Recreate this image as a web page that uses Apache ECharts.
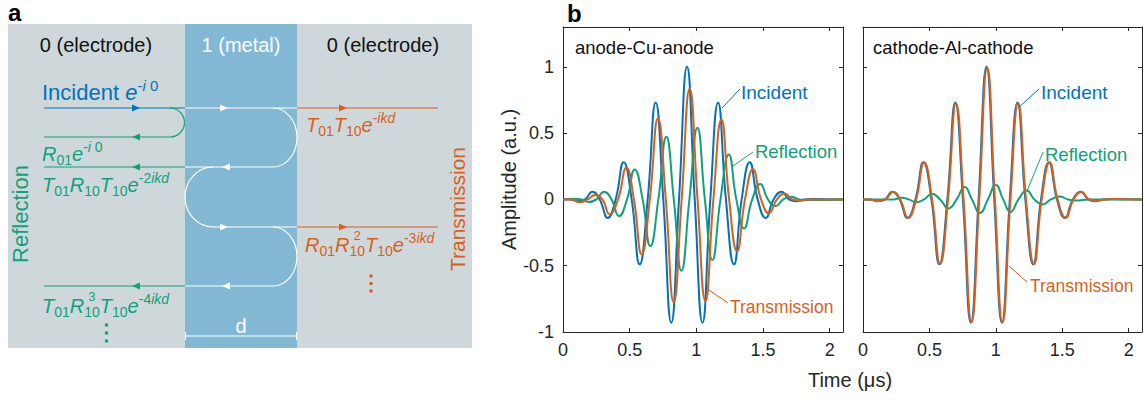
<!DOCTYPE html>
<html><head><meta charset="utf-8">
<script src="https://cdn.jsdelivr.net/npm/echarts@6/dist/echarts.min.js"></script>
<style>html,body{margin:0;padding:0;background:#fff}#c{width:1146px;height:401px}</style>
</head><body><div id="c"></div>
<script>
// ---------- data ----------
const xTicks = [0, 0.5, 1, 1.5, 2];
const yTicks = [-1, -0.5, 0, 0.5, 1];
const panelTitles = ['anode-Cu-anode', 'cathode-Al-cathode'];

// Incident pulse (same in both panels)
const incT = [0, 0.05, 0.11, 0.165, 0.22, 0.275, 0.335, 0.395, 0.455, 0.515, 0.575, 0.635, 0.695, 0.752, 0.812, 0.87, 0.93, 0.988, 1.046, 1.105, 1.163, 1.222, 1.282, 1.34, 1.40, 1.46, 1.52, 1.58, 1.64, 1.695, 1.75, 1.81, 1.87, 2.1];
const incA = [0, 0, -0.014, 0, 0.058, 0, -0.14, 0, 0.28, 0, -0.49, 0, 0.73, 0, -0.93, 0, 1.0, 0, -0.93, 0, 0.73, 0, -0.49, 0, 0.28, 0, -0.14, 0, 0.058, 0, -0.014, 0, 0.003, 0];

// anode-Cu-anode
const cuTrT = [0, 0.06, 0.125, 0.185, 0.24, 0.295, 0.35, 0.413, 0.475, 0.532, 0.59, 0.651, 0.712, 0.771, 0.83, 0.89, 0.95, 1.009, 1.068, 1.128, 1.188, 1.246, 1.305, 1.365, 1.425, 1.485, 1.545, 1.604, 1.663, 1.72, 1.78, 1.84, 2.1];
const cuTrA = [0, 0, -0.022, 0, 0.034, 0, -0.112, 0, 0.238, 0, -0.414, 0, 0.61, 0, -0.776, 0, 0.837, 0, -0.767, 0, 0.603, 0, -0.39, 0, 0.227, 0, -0.105, 0, 0.045, 0, -0.01, 0, 0];
const cuReT = [0, 0.08, 0.14, 0.19, 0.25, 0.308, 0.364, 0.42, 0.48, 0.538, 0.597, 0.655, 0.715, 0.775, 0.831, 0.888, 0.948, 1.008, 1.064, 1.12, 1.181, 1.243, 1.30, 1.358, 1.419, 1.48, 1.537, 1.595, 1.652, 1.71, 1.77, 1.83, 2.1];
const cuReA = [0, 0.004, 0, -0.02, 0, 0.058, 0, -0.126, 0, 0.226, 0, -0.352, 0, 0.472, 0, -0.538, 0, 0.54, 0, -0.457, 0, 0.339, 0, -0.219, 0, 0.116, 0, -0.05, 0, 0.02, 0, -0.005, 0];

// cathode-Al-cathode
const alTrT = [0, 0.05, 0.115, 0.17, 0.225, 0.28, 0.34, 0.40, 0.46, 0.52, 0.58, 0.64, 0.70, 0.757, 0.817, 0.875, 0.935, 0.993, 1.05, 1.11, 1.168, 1.227, 1.287, 1.345, 1.405, 1.465, 1.525, 1.585, 1.645, 1.70, 1.755, 1.815, 1.875, 2.1];
const alTrA = [0, 0, -0.012, 0, 0.056, 0, -0.138, 0, 0.278, 0, -0.487, 0, 0.725, 0, -0.925, 0, 0.99, 0, -0.925, 0, 0.725, 0, -0.487, 0, 0.278, 0, -0.138, 0, 0.056, 0, -0.012, 0, 0.003, 0];
const alReT = [0, 0.12, 0.23, 0.29, 0.345, 0.40, 0.46, 0.52, 0.58, 0.645, 0.705, 0.765, 0.82, 0.88, 0.94, 1.0, 1.055, 1.11, 1.17, 1.232, 1.29, 1.352, 1.415, 1.48, 1.54, 1.60, 1.70, 2.1];
const alReA = [0, 0, 0, 0.012, 0, -0.022, 0, 0.042, 0, -0.068, 0, 0.093, 0, -0.102, 0, 0.109, 0, -0.096, 0, 0.067, 0, -0.038, 0, 0.022, 0, -0.008, 0, 0];

// ---------- style ----------
const FF = '"Liberation Sans", Arial, Helvetica, sans-serif';
const AX = '#262626';
const C_INC = '#0072BD', C_TR = '#D95F1A', C_RE = '#12A07A';
const BG_GRAY = '#CED8DA', BG_BLUE = '#83B8D4';

const pairs = (t, a) => t.map((v, i) => [v, a[i]]);

// ---------- graphic helpers ----------
const G = [];
const mctx = document.createElement('canvas').getContext('2d');
function txt(x, y, s, size, color, o) {
  o = o || {};
  G.push({type: 'text', x: x, y: y, rotation: o.rot || 0, z: 20, silent: true,
    style: {text: s, fontSize: size, fontFamily: FF, fontStyle: o.it ? 'italic' : 'normal',
      fontWeight: o.bold ? 'bold' : 'normal', fill: color, align: o.align || 'left', verticalAlign: 'middle'}});
}
function ln(x1, y1, x2, y2, color, w) {
  G.push({type: 'line', z: 10, silent: true, shape: {x1: x1, y1: y1, x2: x2, y2: y2}, style: {stroke: color, lineWidth: w || 1.2}});
}
function bz(x1, y1, c1x, c1y, c2x, c2y, x2, y2, color) {
  G.push({type: 'bezierCurve', z: 10, silent: true,
    shape: {x1: x1, y1: y1, cpx1: c1x, cpy1: c1y, cpx2: c2x, cpy2: c2y, x2: x2, y2: y2},
    style: {stroke: color, fill: null, lineWidth: 1.2}});
}
// half ellipse from (cx, cy-ry) to (cx, cy+ry) bulging in direction dir (+1 right, -1 left)
function halfEll(cx, cy, rx, ry, dir, color) {
  const k = 0.5523;
  const ex = cx + dir * rx;
  bz(cx, cy - ry, cx + dir * k * rx, cy - ry, ex, cy - k * ry, ex, cy, color);
  bz(ex, cy, ex, cy + k * ry, cx + dir * k * rx, cy + ry, cx, cy + ry, color);
}
function arrow(xt, y, dir, color) {
  G.push({type: 'polygon', z: 11, silent: true, shape: {points: [[xt, y], [xt - dir * 8, y - 3.5], [xt - dir * 8, y + 3.5]]}, style: {fill: color}});
}
function dot(x, y, color) {
  G.push({type: 'circle', z: 11, silent: true, shape: {cx: x, cy: y, r: 1.7}, style: {fill: color}});
}
function fml(x0, base, parts, color, M, S) {
  M = M || 20; S = S || 14;
  let x = x0, stack = null;
  parts.forEach(function (p) {
    const s = p[0], k = p[1], it = p[2];
    const size = k === 'm' ? M : (k === 's' ? S - 1.5 : S);
    const dy = k === 'b' ? 3.5 : k === 'p' ? -9 : k === 's' ? -11.5 : 0;
    mctx.font = (it ? 'italic ' : '') + size + 'px "Liberation Sans"';
    const w = mctx.measureText(s).width;
    if (k === 's') { stack = {s: s, w: w, size: size, dy: dy}; return; }
    if (stack) {
      txt(x + (w - stack.w) / 2, base + stack.dy - 0.35 * stack.size, stack.s, stack.size, color);
      stack = null;
    }
    txt(x, base + dy - 0.35 * size, s, size, color, {it: it});
    x += w;
  });
}

// ---------- panel a ----------
G.push({type: 'rect', z: 1, silent: true, shape: {x: 8, y: 24, width: 464, height: 324}, style: {fill: BG_GRAY}});
G.push({type: 'rect', z: 2, silent: true, shape: {x: 185, y: 24, width: 112, height: 324}, style: {fill: BG_BLUE}});
txt(8, 12, 'a', 24, '#000', {bold: true});
txt(567, 13, 'b', 24, '#000', {bold: true});
txt(96, 45, '0 (electrode)', 20, '#111', {align: 'center'});
txt(241, 45, '1 (metal)', 20, '#fff', {align: 'center'});
txt(383, 45, '0 (electrode)', 20, '#111', {align: 'center'});
txt(20, 214, 'Reflection', 22, C_RE, {align: 'center', rot: Math.PI / 2});
txt(457, 209, 'Transmission', 21, C_TR, {align: 'center', rot: Math.PI / 2});

// rays
ln(44, 108, 185, 108, C_INC);
ln(44, 137, 170, 137, C_RE);
halfEll(170, 122.5, 14.5, 14.5, 1, C_RE);
ln(44, 167, 185, 167, C_RE);
ln(44, 286, 185, 286, C_RE);
ln(185, 108, 297, 108, '#fff');
ln(185, 167, 273, 167, '#fff');
ln(213, 227, 297, 227, '#fff');
ln(185, 286, 273, 286, '#fff');
halfEll(273, 137.5, 24, 29.5, 1, '#fff');
halfEll(213, 197, 28, 30, -1, '#fff');
halfEll(273, 256.5, 24, 29.5, 1, '#fff');
ln(297, 108, 438, 108, C_TR);
ln(297, 227, 438, 227, C_TR);
arrow(140, 108, 1, C_INC);
arrow(132, 137, -1, C_RE); arrow(132, 167, -1, C_RE); arrow(132, 286, -1, C_RE);
arrow(228, 108, 1, '#fff'); arrow(228, 227, 1, '#fff');
arrow(222, 167, -1, '#fff'); arrow(222, 286, -1, '#fff');
arrow(347, 108, 1, C_TR); arrow(347, 227, 1, C_TR);
// d bracket
ln(185, 336, 297, 336, '#fff', 1.2);
ln(185.5, 332, 185.5, 340, '#fff', 1.2);
ln(296.5, 332, 296.5, 340, '#fff', 1.2);
txt(241, 326, 'd', 20, '#fff', {align: 'center'});
// dots
dot(106.5, 325, C_RE); dot(106.5, 333, C_RE); dot(106.5, 341, C_RE);
dot(371, 276, C_TR); dot(371, 283.5, C_TR); dot(371, 291, C_TR);

// formulas
txt(42, 100 - 0.35 * 22, 'Incident', 22, C_INC);
mctx.font = '22px "Liberation Sans"';
const incW = mctx.measureText('Incident ').width;
fml(42 + incW, 100, [['e', 'm', 1], ['-', 'p', 0], ['i', 'p', 1], [' 0', 'p', 0]], C_INC, 22, 15);
fml(42, 161, [['R', 'm', 1], ['01', 'b', 0], ['e', 'm', 1], ['-', 'p', 0], ['i', 'p', 1], [' 0', 'p', 0]], C_RE);
fml(42, 192, [['T', 'm', 1], ['01', 'b', 0], ['R', 'm', 1], ['10', 'b', 0], ['T', 'm', 1], ['10', 'b', 0], ['e', 'm', 1], ['-2', 'p', 0], ['ikd', 'p', 1]], C_RE);
fml(42, 313, [['T', 'm', 1], ['01', 'b', 0], ['R', 'm', 1], ['3', 's', 0], ['10', 'b', 0], ['T', 'm', 1], ['10', 'b', 0], ['e', 'm', 1], ['-4', 'p', 0], ['ikd', 'p', 1]], C_RE);
fml(306, 132, [['T', 'm', 1], ['01', 'b', 0], ['T', 'm', 1], ['10', 'b', 0], ['e', 'm', 1], ['-', 'p', 0], ['ikd', 'p', 1]], C_TR);
fml(305, 252, [['R', 'm', 1], ['01', 'b', 0], ['R', 'm', 1], ['2', 's', 0], ['10', 'b', 0], ['T', 'm', 1], ['10', 'b', 0], ['e', 'm', 1], ['-3', 'p', 0], ['ikd', 'p', 1]], C_TR);

// ---------- panel b annotations ----------
txt(575, 47, panelTitles[0], 18.5, '#111');
txt(873, 47, panelTitles[1], 18.5, '#111');
txt(850, 380, 'Time (\u03bcs)', 20, AX, {align: 'center'});
// left
ln(722, 108, 740, 89, C_INC, 1); txt(741, 92, 'Incident', 19, C_INC);
ln(733, 166, 753, 152, C_RE, 1); txt(755, 151, 'Reflection', 18.5, C_RE);
ln(709, 290, 728, 303, C_TR, 1); txt(730, 307, 'Transmission', 17.5, C_TR);
// right
ln(1018, 108, 1039, 89, C_INC, 1); txt(1041, 92, 'Incident', 19, C_INC);
ln(1027, 191, 1043, 152, C_RE, 1); txt(1045, 154, 'Reflection', 18.5, C_RE);
ln(1009, 266, 1027, 282, C_TR, 1); txt(1030, 286, 'Transmission', 17.5, C_TR);

// ---------- axes ----------
function xAx(g, pos, lab) {
  return {type: 'value', gridIndex: g, position: pos, min: 0, max: 2.1, interval: 0.5,
    axisLine: {show: true, onZero: false, lineStyle: {color: AX, width: 1}},
    axisTick: {show: true, inside: true, length: 4, customValues: xTicks, lineStyle: {color: AX}},
    axisLabel: {show: lab, customValues: xTicks, fontSize: 18, fontFamily: FF, color: AX, margin: 9},
    splitLine: {show: false}};
}
function yAx(g, pos, lab, name) {
  return {type: 'value', gridIndex: g, position: pos, min: -1, max: 1.3, interval: 0.5,
    name: name || '', nameLocation: 'middle', nameGap: 42,
    nameTextStyle: {fontSize: 20, fontFamily: FF, color: AX},
    axisLine: {show: true, onZero: false, lineStyle: {color: AX, width: 1}},
    axisTick: {show: true, inside: true, length: 4, customValues: yTicks, lineStyle: {color: AX}},
    axisLabel: {show: lab, customValues: yTicks, fontSize: 18, fontFamily: FF, color: AX, margin: 9},
    splitLine: {show: false}};
}
function ser(xi, yi, data, color, z) {
  return {type: 'line', xAxisIndex: xi, yAxisIndex: yi, data: data, smooth: 0.5, showSymbol: false,
    symbol: 'none', z: z, lineStyle: {color: color, width: 2}, silent: true};
}

const chart = echarts.init(document.getElementById('c'), null, {renderer: 'svg'});
chart.setOption({
  animation: false,
  backgroundColor: '#fff',
  grid: [
    {left: 563, top: 27, width: 280, height: 305},
    {left: 863, top: 27, width: 279, height: 305}
  ],
  xAxis: [xAx(0, 'bottom', true), xAx(0, 'top', false), xAx(1, 'bottom', true), xAx(1, 'top', false)],
  yAxis: [yAx(0, 'left', true, 'Amplitude (a.u.)'), yAx(0, 'right', false), yAx(1, 'left', false), yAx(1, 'right', false)],
  series: [
    ser(0, 0, pairs(incT, incA), C_INC, 2),
    ser(0, 0, pairs(cuReT, cuReA), C_RE, 3),
    ser(0, 0, pairs(cuTrT, cuTrA), C_TR, 4),
    ser(2, 2, pairs(incT, incA), C_INC, 2),
    ser(2, 2, pairs(alReT, alReA), C_RE, 3),
    ser(2, 2, pairs(alTrT, alTrA), C_TR, 4)
  ],
  graphic: {elements: G}
});
</script></body></html>
